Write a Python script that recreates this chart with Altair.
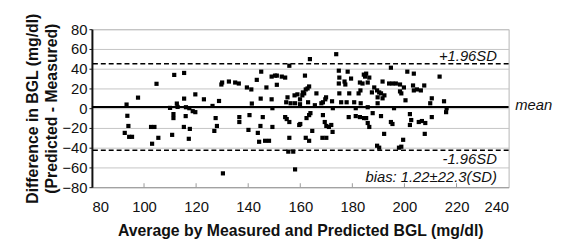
import altair as alt
import pandas as pd

avg = [93.3, 93.6, 94.0, 92.6, 94.3, 95.4, 97.7, 102.7, 104.0, 103.1, 105.5, 104.8, 110.8, 110.0, 111.3, 111.3,
       111.6, 112.6, 112.9, 115.4, 115.4, 115.3, 116.0, 117.6, 117.2, 116.1, 117.4, 118.7, 119.7, 119.7,
       123.0, 126.3, 128.8, 127.5, 128.0, 127.0, 130.3, 130.0, 129.7, 132.6, 135.0, 136.4, 139.5, 141.2,
       143.3, 145.0, 149.0, 150.3, 147.0, 136.6, 136.6, 140.5, 141.4, 144.8, 145.6, 149.0, 149.3, 140.1,
       144.7, 143.7, 144.2, 146.5, 148.0, 149.3,
       163.7, 173.8, 155.8, 151.0, 152.9, 154.2, 151.0, 161.8, 174.8, 178.2, 175.0, 177.0, 179.5, 174.8,
       177.3, 182.9, 183.9, 184.9, 184.4, 163.4, 162.8, 162.1, 161.5, 160.8, 159.9, 158.9, 166.2, 169.6,
       168.7, 168.1, 172.2, 175.0, 178.8, 182.4, 155.1, 154.6, 156.3, 158.0, 159.9, 163.0, 165.6, 172.5,
       175.7, 177.8, 180.7, 183.2, 181.3, 154.2, 154.8, 155.8, 159.6, 162.4, 163.4, 163.9, 168.7, 169.4,
       170.0, 171.0, 171.9, 164.6, 155.8, 162.1, 163.4, 168.5, 170.0, 155.4, 157.3, 158.0, 178.6, 181.3,
       182.9, 184.5, 172.4, 157.8, 161.0, 160.0, 183.1, 169.9,
       194.8, 201.1, 203.6, 213.5, 185.3, 186.5, 185.9, 191.6, 194.1, 195.4, 196.7, 198.3, 199.8, 203.3,
       204.8, 206.3, 207.6, 203.6, 198.3, 198.8, 188.4, 189.5, 190.3, 191.0, 189.7, 191.6, 200.4, 210.5,
       209.9, 215.2, 216.2, 216.0, 189.7, 185.9, 196.0, 187.8, 191.0, 185.3, 194.8, 195.4, 202.1, 202.6,
       202.1, 205.5, 206.7, 208.0, 210.5, 186.5, 185.9, 192.2, 207.8, 199.5, 198.8, 197.9, 189.5, 190.3,
       187.5, 192.3]
diff = [3.7, -7.7, -18, -25, -29, -29, 10.7, -19, -19, -36, -30, 24.7, -27, 0.3, -6, -10,
        33.7, 4.7, 1.3, 35.7, 9.7, -19, -8, -21, -31, 1, 0, -3, -4, 14,
        9, 2.3, 7.3, -10, -18, -23, -66, 26, 24, 27, 26, 25, 21, 19,
        28.7, 37, 32, 33, 21, -9, -14, -7, 4.7, 9.7, -9, 9, 0, -22,
        -18, -25, -34, -33, -33, -19,
        49.7, 54.7, 43, 33, 32, 31, 23.7, 33, 38, 37, 31, 27, 30, 25,
        24, 26, 25, 32, 34, 22, 20, 19, 15, 13, 9, 14, 15, 9,
        6, 5, 7, 15, 15, 15, 11, 6, 5, 5, 4, 6, 3, 0,
        6, 6, 6, 5, 0, -9, -11, -14, -17, -10, -7, -5, -7, -14,
        -18, -19, -17, -23, -30, -30, -33, -30, -30, -44, -44, -62, -9, -8,
        -9, -10, -24, 13, 16, -16, 18, 11,
        41, 37, 35, 32, 35, 31, 26, 27, 25, 25, 25, 24, 21, 23,
        19, 18, 23, 18, 17, 15, 21, 18, 16, 15, 11, 10, 8, 10,
        5, 7, 0, -4, 5, 1, 0, -5, -8, -10, -14, -16, -6, -12,
        -17, -14, -13, -15, -9, -19, -15, -26, -26, -32, -39, -40, -38, -40,
        16, 13]

bias = 1.22
upper = 44.93
lower = -42.49
x_ticks = [80, 100, 120, 140, 160, 180, 200, 220, 240]
y_ticks = [-80, -60, -40, -20, 0, 20, 40, 60, 80]

pts = pd.DataFrame({"x": avg, "y": diff})
FONT = "Liberation Sans"

xs = alt.Scale(domain=[80, 240], nice=False, zero=False)
ys = alt.Scale(domain=[-80, 80], nice=False, zero=False)

xaxis = alt.Axis(values=x_ticks, grid=False, tickSize=0, labelPadding=13, labelFontSize=15,
                 labelFont=FONT, labelColor="#111", domainColor="#999", domainWidth=1,
                 labelOverlap=False,
                 title="Average by Measured and Predicted BGL (mg/dl)", titleFont=FONT,
                 titleFontSize=16, titleFontWeight="bold", titlePadding=8, titleColor="#111")
yaxis = alt.Axis(values=y_ticks, grid=True, gridColor="#c4c4c4", gridWidth=1, tickSize=3,
                 tickColor="#111", labelPadding=2, labelFontSize=15, labelFont=FONT, labelColor="#111",
                 domainColor="#111", domainWidth=2, labelOverlap=False,
                 title=["Difference in BGL (mg/dl)", "(Predicted - Measured)"], titleFont=FONT,
                 titleFontSize=16, titleFontWeight="bold", titleLineHeight=20, titlePadding=2,
                 titleColor="#111")

X = lambda f: alt.X(f, scale=xs, axis=xaxis)
Y = lambda f: alt.Y(f, scale=ys, axis=yaxis)

points = alt.Chart(pts).mark_square(size=18, color="black", opacity=1).encode(
    x=X("x:Q"), y=Y("y:Q"))

mean_rule = alt.Chart(pd.DataFrame({"y": [bias]})).mark_rule(color="black", strokeWidth=2).encode(
    y=Y("y:Q"))
sd_rules = alt.Chart(pd.DataFrame({"y": [upper, lower]})).mark_rule(
    color="black", strokeWidth=1.5, strokeDash=[5, 3]).encode(y=Y("y:Q"))

xt = pd.DataFrame({"x": x_ticks[1:-1]})
x_inner = alt.Chart(xt).mark_rule(color="#999", strokeWidth=1).encode(
    x=X("x:Q"), y=alt.value(160), y2=alt.value(156))

labels = pd.DataFrame({
    "x": [235.5, 235.5, 235.5],
    "y": [47.5, -57.0, -74.5],
    "t": ["+1.96SD", "-1.96SD", "bias: 1.22\u00b122.3(SD)"],
})
ann = alt.Chart(labels).mark_text(align="right", baseline="alphabetic", fontStyle="italic",
                                  fontSize=15, font=FONT, color="#111").encode(
    x=X("x:Q"), y=Y("y:Q"), text="t:N")
mean_lbl = alt.Chart(pd.DataFrame({"x": [242.5], "y": [-2.0], "t": ["mean"]})).mark_text(
    align="left", baseline="alphabetic", fontStyle="italic", fontSize=15, font=FONT, color="#111").encode(
    x=X("x:Q"), y=Y("y:Q"), text="t:N")

chart = alt.layer(points, mean_rule, sd_rules, x_inner, ann, mean_lbl).properties(
    width=422, height=160,
    autosize=alt.AutoSizeParams(type="none"),
    padding={"left": 85, "top": 20, "right": 49, "bottom": 51},
    background="white",
).configure_view(stroke="#b5b5b5", strokeWidth=1)

chart.save("out.html", embed_options={"renderer": "svg", "actions": False})
